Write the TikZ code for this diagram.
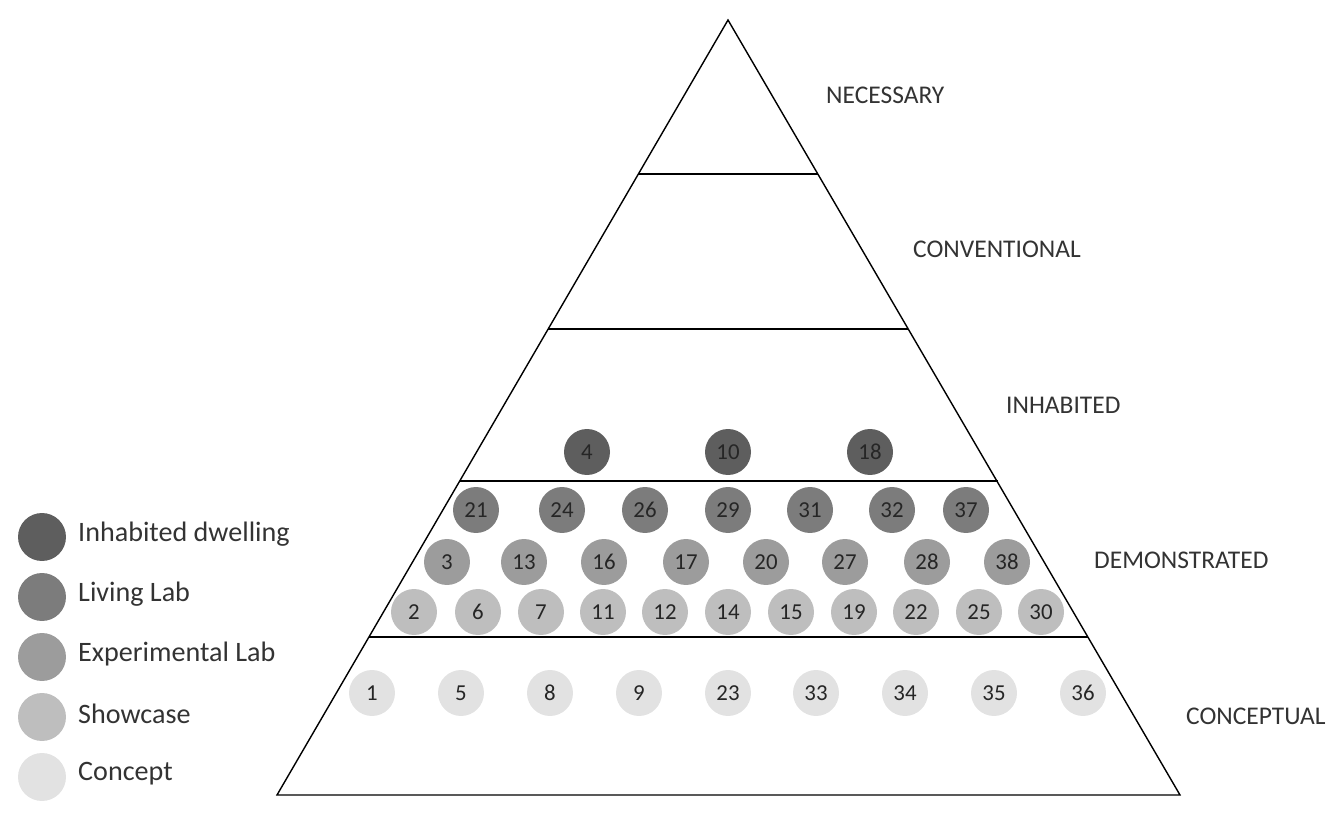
\documentclass[tikz,border=0pt]{standalone}
\usepackage{fontspec}
\setmainfont{Carlito}
\begin{document}
\begin{tikzpicture}[x=0.02cm,y=-0.02cm]
\definecolor{cA}{HTML}{5E5E5E}
\definecolor{cB}{HTML}{7C7C7C}
\definecolor{cC}{HTML}{9C9C9C}
\definecolor{cD}{HTML}{BEBEBE}
\definecolor{cE}{HTML}{E2E2E2}
\tikzset{dot/.style={circle,minimum size=46\pgflinewidth*0+0.92cm,inner sep=0pt,font=\fontsize{13}{13}\selectfont,text=black!85},
 lvl/.style={font=\fontsize{14.5}{14}\selectfont,text=black!80,anchor=west},
 leg/.style={font=\fontsize{16}{16}\selectfont,text=black!80,anchor=west}}
\clip (0,0) rectangle (1333,828);
\useasboundingbox (0,0) rectangle (1333,828);
\coordinate (apex) at (728,20); \coordinate (bl) at (277,795); \coordinate (br) at (1180,795);
\draw[thick] (apex) -- (bl) -- (br) -- cycle;
\coordinate (l1a) at (638,174); \coordinate (l1b) at (818,174);
\coordinate (l2a) at (548,329); \coordinate (l2b) at (908,329);
\coordinate (l3a) at (460,481); \coordinate (l3b) at (998,481);
\coordinate (l4a) at (369,637); \coordinate (l4b) at (1088,637);
\draw[thick] (l1a)--(l1b) (l2a)--(l2b) (l3a)--(l3b) (l4a)--(l4b);
\node[lvl] (n1) at (820,95) {NECESSARY};
\node[lvl] (n2) at (907,249) {CONVENTIONAL};
\node[lvl] (n3) at (1000,405) {INHABITED};
\node[lvl] (n4) at (1088,560) {DEMONSTRATED};
\node[lvl] (n5) at (1180,716) {CONCEPTUAL};
\foreach \x/\t in {587/4,728/10,870/18} \node[dot,fill=cA] (d\t) at (\x,452) {\t};
\foreach \x/\t in {476/21,562/24,645/26,728/29,810/31,892/32,966/37} \node[dot,fill=cB] (d\t) at (\x,510) {\t};
\foreach \x/\t in {447/3,524/13,604/16,686/17,766/20,845/27,927/28,1007/38} \node[dot,fill=cC] (d\t) at (\x,562) {\t};
\foreach \x/\t in {414/2,478/6,541/7,603/11,665/12,728/14,791/15,854/19,916/22,979/25,1041/30} \node[dot,fill=cD] (d\t) at (\x,612) {\t};
\foreach \x/\t in {372/1,461/5,550/8,639/9,728/23,816/33,905/34,994/35,1083/36} \node[dot,fill=cE] (d\t) at (\x,693) {\t};
\foreach \y/\c/\t [count=\i] in {537/cA/Inhabited dwelling,597/cB/Living Lab,657/cC/Experimental Lab,717/cD/Showcase,777/cE/Concept}{
 \node[circle,fill=\c,minimum size=0.96cm,inner sep=0pt] (lg\i) at (42,\y) {};
 \node[leg] (lt\i) at (72,\y-3) {\t};}
\end{tikzpicture}
\end{document}
